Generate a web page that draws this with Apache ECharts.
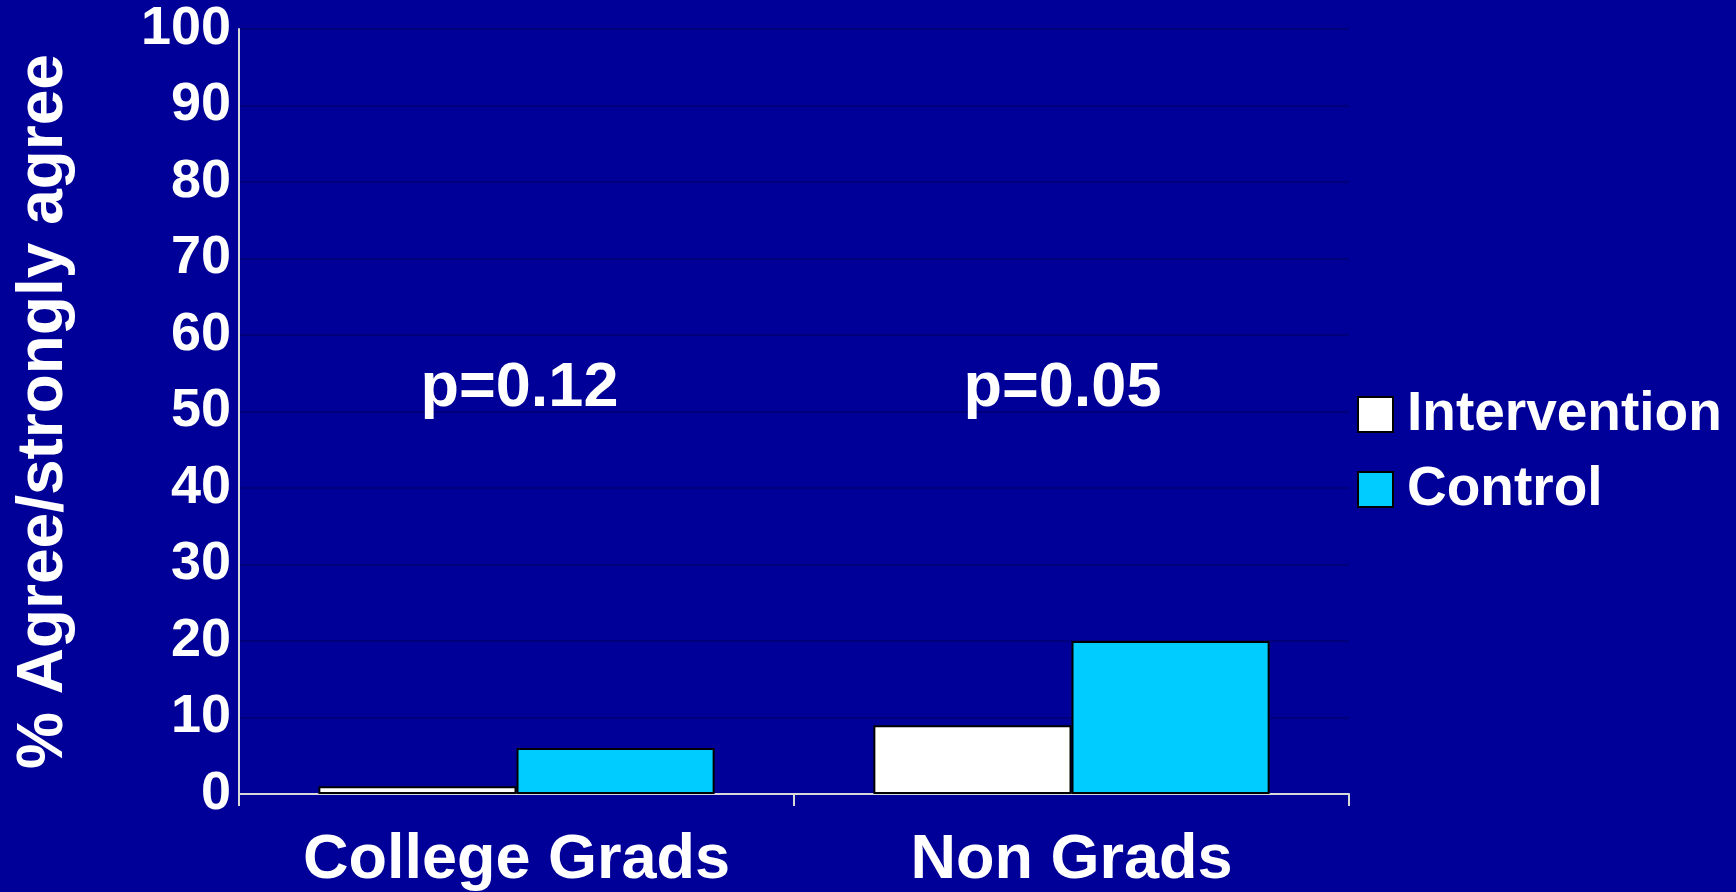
<!DOCTYPE html>
<html>
<head>
<meta charset="utf-8">
<title>% Agree/strongly agree</title>
<script src="https://cdn.jsdelivr.net/npm/echarts@6/dist/echarts.min.js"></script>
<style>
  html, body { margin: 0; padding: 0; background: #000099; }
  #chart { width: 1736px; height: 892px; }
</style>
</head>
<body>
<div id="chart"></div>
<script>
// Groups on the x axis
const categories = ['College Grads', 'Non Grads'];
// Share who agree / strongly agree, per group
const intervention = [1, 9];
const control = [6, 20];
// Significance note shown above each group
const pValues = ['p=0.12', 'p=0.05'];
// Value-axis ticks
const yTicks = [0, 10, 20, 30, 40, 50, 60, 70, 80, 90, 100];

const FONT = '"Liberation Sans", Arial, sans-serif';
const NOTE_LEVEL = 53;            // height (in axis units) where the p-value notes sit
const NOTE_NUDGE = [3, -9];       // small horizontal nudge of each note, in px

const chart = echarts.init(document.getElementById('chart'), null, { renderer: 'canvas' });

chart.setOption({
  backgroundColor: '#000099',
  animation: false,
  grid: { left: 239, right: 387, top: 29, bottom: 98, containLabel: false },
  legend: {
    data: ['Intervention', 'Control'],
    orient: 'vertical',
    left: 1352,
    top: 382,
    itemWidth: 35,
    itemHeight: 35,
    itemGap: 20,
    icon: 'rect',
    textStyle: { color: '#ffffff', fontSize: 55, fontWeight: 'bold', fontFamily: FONT, padding: [0, 0, 0, 9] }
  },
  xAxis: {
    type: 'category',
    data: categories,
    boundaryGap: true,
    axisLine: { show: true, lineStyle: { color: '#d8d8d8', width: 2 } },
    axisTick: { show: true, length: 12, inside: false, lineStyle: { color: '#d8d8d8', width: 2 } },
    axisLabel: {
      color: '#ffffff', fontSize: 63, fontWeight: 'bold', fontFamily: FONT, margin: 35,
      interval: 0, hideOverlap: false
    },
    splitLine: { show: false }
  },
  yAxis: {
    type: 'value',
    min: yTicks[0],
    max: yTicks[yTicks.length - 1],
    interval: yTicks[1] - yTicks[0],
    name: '% Agree/strongly agree',
    nameLocation: 'middle',
    nameGap: 163,
    nameTextStyle: { color: '#ffffff', fontSize: 64, fontWeight: 'bold', fontFamily: FONT },
    axisLine: { show: true, lineStyle: { color: '#d8d8d8', width: 2 } },
    axisTick: { show: false },
    axisLabel: { color: '#ffffff', fontSize: 54, fontWeight: 'bold', fontFamily: FONT, margin: 8 },
    splitLine: { show: true, lineStyle: { color: '#00007a', width: 2 } }
  },
  series: [
    {
      name: 'Intervention',
      type: 'bar',
      data: intervention,
      barGap: '0%',
      barCategoryGap: '28.6%',
      itemStyle: { color: '#ffffff', borderColor: '#000000', borderWidth: 2 }
    },
    {
      name: 'Control',
      type: 'bar',
      data: control,
      itemStyle: { color: '#00ccff', borderColor: '#000000', borderWidth: 2 }
    },
    {
      name: 'notes',
      type: 'scatter',
      symbolSize: 0,
      silent: true,
      itemStyle: { opacity: 1 },
      data: pValues.map((p, i) => ({
        value: [i, NOTE_LEVEL],
        label: { offset: [NOTE_NUDGE[i], 0] }
      })),
      label: {
        show: true,
        position: 'inside',
        formatter: (params) => pValues[params.dataIndex],
        color: '#ffffff',
        opacity: 1,
        fontSize: 63,
        fontWeight: 'bold',
        fontFamily: FONT
      }
    }
  ]
});
</script>
</body>
</html>
